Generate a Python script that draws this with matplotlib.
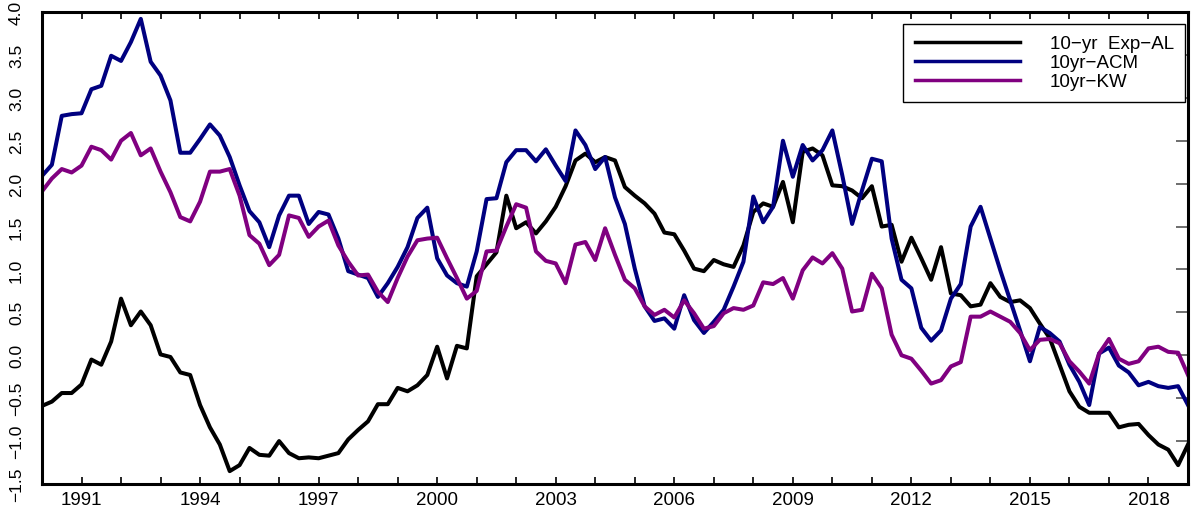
import numpy as np
import matplotlib
matplotlib.use("Agg")
import matplotlib.pyplot as plt
from matplotlib import font_manager

start_year = 1990
quarters_per_year = 4

exp_al = [-0.59, -0.54, -0.44, -0.44, -0.34, -0.05, -0.11, 0.16, 0.66, 0.35,
          0.51, 0.35, 0.01, -0.02, -0.20, -0.23, -0.58, -0.84, -1.04, -1.35,
          -1.28, -1.08, -1.16, -1.17, -1.00, -1.14, -1.20, -1.19, -1.20, -1.17,
          -1.14, -0.98, -0.87, -0.77, -0.57, -0.57, -0.38, -0.42, -0.35, -0.23,
          0.10, -0.27, 0.11, 0.08, 0.92, 1.06, 1.20, 1.86, 1.48, 1.55,
          1.42, 1.56, 1.73, 1.97, 2.27, 2.35, 2.25, 2.31, 2.27, 1.96,
          1.86, 1.77, 1.65, 1.43, 1.41, 1.22, 1.01, 0.98, 1.11, 1.06,
          1.03, 1.28, 1.67, 1.77, 1.73, 2.02, 1.55, 2.37, 2.41, 2.33,
          1.98, 1.97, 1.92, 1.83, 1.97, 1.50, 1.52, 1.09, 1.37, 1.13,
          0.88, 1.26, 0.72, 0.70, 0.57, 0.59, 0.84, 0.68, 0.62, 0.64,
          0.55, 0.37, 0.20, -0.11, -0.42, -0.60, -0.67, -0.67, -0.67, -0.84,
          -0.81, -0.80, -0.93, -1.04, -1.10, -1.28, -1.04]

acm = [2.09, 2.22, 2.79, 2.81, 2.82, 3.10, 3.14, 3.49, 3.43, 3.65,
       3.92, 3.42, 3.26, 2.97, 2.36, 2.36, 2.52, 2.69, 2.56, 2.31,
       1.98, 1.68, 1.55, 1.26, 1.63, 1.86, 1.86, 1.53, 1.67, 1.64,
       1.36, 0.98, 0.94, 0.90, 0.68, 0.84, 1.03, 1.26, 1.60, 1.72,
       1.13, 0.93, 0.84, 0.80, 1.21, 1.82, 1.83, 2.25, 2.39, 2.39,
       2.26, 2.40, 2.21, 2.03, 2.62, 2.45, 2.17, 2.31, 1.84, 1.53,
       1.01, 0.57, 0.40, 0.43, 0.31, 0.70, 0.41, 0.26, 0.39, 0.53,
       0.80, 1.09, 1.85, 1.55, 1.73, 2.50, 2.08, 2.45, 2.27, 2.39,
       2.62, 2.10, 1.53, 1.92, 2.29, 2.26, 1.36, 0.88, 0.78, 0.32,
       0.17, 0.29, 0.66, 0.83, 1.50, 1.73, 1.36, 0.99, 0.64, 0.29,
       -0.07, 0.33, 0.26, 0.16, -0.11, -0.31, -0.58, 0.02, 0.09, -0.12,
       -0.20, -0.35, -0.31, -0.36, -0.38, -0.36, -0.58]

kw = [1.91, 2.06, 2.17, 2.13, 2.21, 2.43, 2.39, 2.28, 2.50, 2.59,
      2.33, 2.41, 2.14, 1.90, 1.61, 1.56, 1.79, 2.14, 2.14, 2.17,
      1.86, 1.40, 1.30, 1.05, 1.17, 1.63, 1.60, 1.38, 1.50, 1.57,
      1.28, 1.09, 0.93, 0.94, 0.74, 0.62, 0.90, 1.15, 1.34, 1.36,
      1.37, 1.13, 0.90, 0.66, 0.75, 1.21, 1.22, 1.50, 1.76, 1.72,
      1.21, 1.10, 1.07, 0.84, 1.29, 1.32, 1.11, 1.48, 1.17, 0.88,
      0.78, 0.57, 0.47, 0.53, 0.44, 0.64, 0.49, 0.31, 0.34, 0.49,
      0.55, 0.53, 0.58, 0.85, 0.83, 0.90, 0.66, 0.99, 1.14, 1.07,
      1.19, 1.01, 0.51, 0.53, 0.95, 0.78, 0.24, 0.00, -0.04, -0.18,
      -0.33, -0.29, -0.13, -0.08, 0.45, 0.45, 0.51, 0.45, 0.39, 0.26,
      0.06, 0.18, 0.19, 0.14, -0.07, -0.19, -0.33, 0.02, 0.19, -0.04,
      -0.10, -0.07, 0.08, 0.10, 0.04, 0.03, -0.23]

labels = ["10\u2212yr  Exp\u2212AL", "10yr\u2212ACM", "10yr\u2212KW"]
xtick_years = [1991, 1994, 1997, 2000, 2003, 2006, 2009, 2012, 2015, 2018]
ytick_vals = [-1.5, -1.0, -0.5, 0.0, 0.5, 1.0, 1.5, 2.0, 2.5, 3.0, 3.5, 4.0]

dates = start_year + np.arange(len(exp_al)) / quarters_per_year

names = {f.name for f in font_manager.fontManager.ttflist}
narrow = "Liberation Sans Narrow" if "Liberation Sans Narrow" in names else "Liberation Sans"

fig = plt.figure(figsize=(11.96, 5.10), dpi=100)
ax = fig.add_axes([42 / 1196, 1 - 485 / 510, (1188 - 42) / 1196, (485 - 13) / 510])

lw = 2.9
ax.plot(dates, exp_al, color="black", lw=lw, label=labels[0])
ax.plot(dates, acm, color="#000080", lw=lw, label=labels[1])
ax.plot(dates, kw, color="#800080", lw=lw, label=labels[2])

ax.set_xlim(1990, 2019)
ax.set_ylim(-1.5, 4.0)

ax.set_xticks(np.arange(1991, 2019))
ax.set_xticklabels([str(y) if y in xtick_years else "" for y in range(1991, 2019)],
                   fontsize=13.5, family="Liberation Sans")
ax.set_yticks(ytick_vals)
ax.set_yticklabels([f"{v:.1f}".replace("-", "\u2212") for v in ytick_vals],
                   rotation=90, va="center", fontsize=12.5, family=narrow)

ax.tick_params(axis="x", which="both", direction="in", top=True, bottom=True,
               length=5, width=1.2, pad=5)
ax.tick_params(axis="y", which="both", direction="in", left=False, right=True,
               length=9, width=1.2, color="#555555", pad=13)

for s in ax.spines.values():
    s.set_linewidth(2.2)
    s.set_color("black")

leg = ax.legend(loc="upper right", bbox_to_anchor=(1185 / 1196, 1 - 25 / 510),
                bbox_transform=fig.transFigure, borderaxespad=0, fancybox=False,
                framealpha=1, edgecolor="black", handlelength=5.6,
                handletextpad=1.6, labelspacing=0.1, borderpad=0.6,
                prop={"family": "Liberation Sans", "size": 13.5})
leg.get_frame().set_linewidth(1.0)
for line in leg.get_lines():
    line.set_linewidth(2.5)

fig.savefig("out.png", dpi=100)
